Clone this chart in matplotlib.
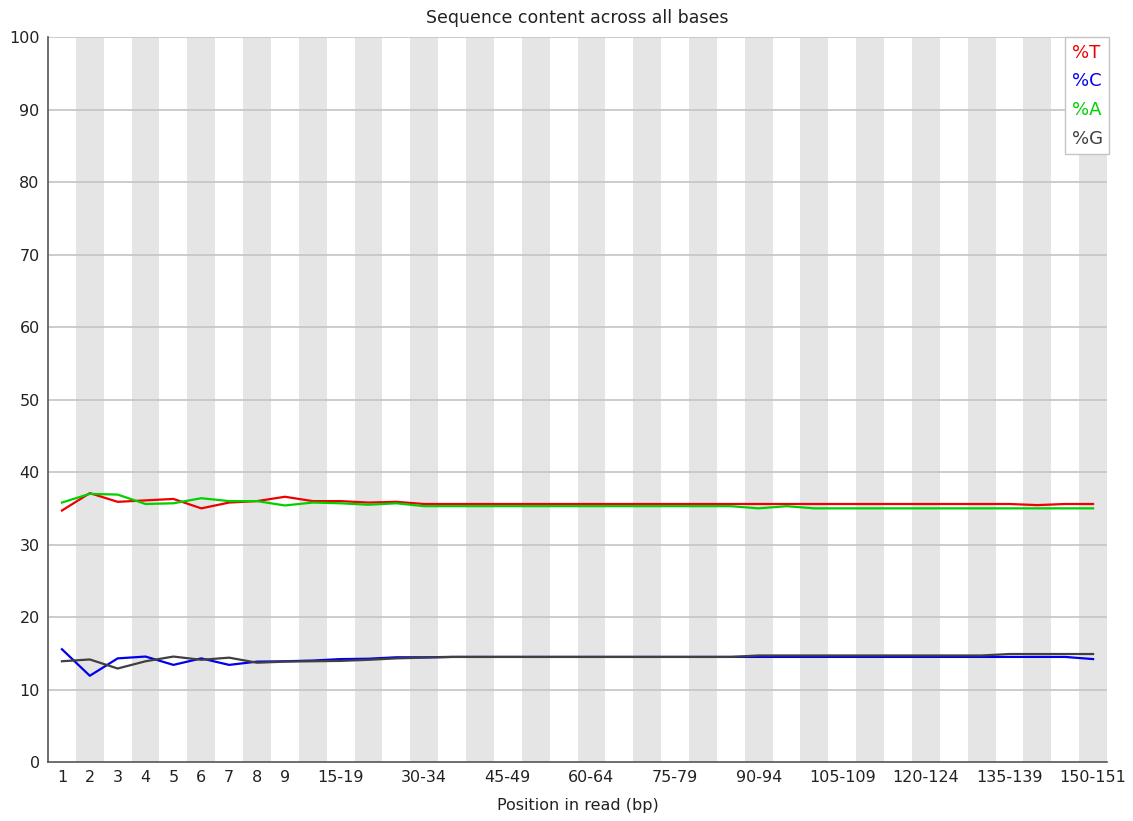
import matplotlib
matplotlib.use("Agg")
import matplotlib.pyplot as plt
import numpy as np

categories = ["1", "2", "3", "4", "5", "6", "7", "8", "9",
              "10-14", "15-19", "20-24", "25-29", "30-34", "35-39", "40-44",
              "45-49", "50-54", "55-59", "60-64", "65-69", "70-74", "75-79",
              "80-84", "85-89", "90-94", "95-99", "100-104", "105-109",
              "110-114", "115-119", "120-124", "125-129", "130-134",
              "135-139", "140-144", "145-149", "150-151"]

pct_T = [34.7, 37.1, 35.9, 36.1, 36.3, 35.0, 35.8, 36.0, 36.6, 36.0,
         36.0, 35.8, 35.9, 35.6, 35.6, 35.6, 35.6, 35.6, 35.6, 35.6,
         35.6, 35.6, 35.6, 35.6, 35.6, 35.6, 35.6, 35.6, 35.6, 35.6,
         35.6, 35.6, 35.6, 35.6, 35.6, 35.45, 35.6, 35.6]
pct_C = [15.56, 11.9, 14.3, 14.55, 13.4, 14.3, 13.4, 13.85, 13.9, 14.0,
         14.2, 14.25, 14.45, 14.45, 14.5, 14.5, 14.5, 14.5, 14.5, 14.5,
         14.5, 14.5, 14.5, 14.5, 14.5, 14.5, 14.5, 14.5, 14.5, 14.5,
         14.5, 14.5, 14.5, 14.5, 14.5, 14.5, 14.5, 14.2]
pct_A = [35.8, 37.0, 36.9, 35.6, 35.7, 36.4, 36.0, 36.0, 35.4, 35.8,
         35.7, 35.5, 35.7, 35.3, 35.3, 35.3, 35.3, 35.3, 35.3, 35.3,
         35.3, 35.3, 35.3, 35.3, 35.3, 35.0, 35.3, 35.0, 35.0, 35.0,
         35.0, 35.0, 35.0, 35.0, 35.0, 35.0, 35.0, 35.0]
pct_G = [13.9, 14.15, 12.9, 13.9, 14.55, 14.1, 14.4, 13.7, 13.85, 13.9,
         13.95, 14.1, 14.3, 14.4, 14.5, 14.5, 14.5, 14.5, 14.5, 14.5,
         14.5, 14.5, 14.5, 14.5, 14.5, 14.7, 14.7, 14.7, 14.7, 14.7,
         14.7, 14.7, 14.7, 14.7, 14.9, 14.9, 14.9, 14.9]

series = [("%T", pct_T, "#ee0000"), ("%C", pct_C, "#0000ee"),
          ("%A", pct_A, "#00d000"), ("%G", pct_G, "#404040")]

fig = plt.figure(figsize=(11.33, 8.21), dpi=100)
ax = fig.add_axes([48 / 1133, 1 - 762 / 821, 1059 / 1133, (762 - 37.3) / 821])

x = np.arange(len(categories))
for i in x:
    if i % 2 == 1:
        ax.axvspan(i - 0.5, i + 0.5, color="#e5e5e5", lw=0, zorder=0)

for yv in range(10, 101, 10):
    ax.axhline(yv, color="#c4c4c4", lw=1.2, zorder=1)

handles = []
for name, vals, col in series:
    h, = ax.plot(x, vals, color=col, lw=1.6, zorder=3, label=name)
    handles.append(h)

ax.set_xlim(-0.5, len(categories) - 0.5)
ax.set_ylim(0, 100)
ax.set_yticks(range(0, 101, 10))
shown = [i for i in x if i < 9 or (i - 10) % 3 == 0 and i >= 10]
ax.set_xticks(shown)
ax.set_xticklabels([categories[i] for i in shown])
ax.tick_params(axis="both", length=0, labelsize=11.5, colors="#222222")
ax.tick_params(axis="y", pad=6)
ax.tick_params(axis="x", pad=6)

for s in ["top", "right"]:
    ax.spines[s].set_visible(False)
for s in ["left", "bottom"]:
    ax.spines[s].set_color("#555555")
    ax.spines[s].set_linewidth(1.2)

ax.set_xlabel("Position in read (bp)", fontsize=11.5, color="#222222", labelpad=9)
ax.set_title("Sequence content across all bases", fontsize=12.5, color="#222222", pad=10)

leg = ax.legend(handles=handles, loc="upper right", bbox_to_anchor=(1.002, 1.0),
                handlelength=0, handletextpad=0, fontsize=13, frameon=True,
                fancybox=False, edgecolor="#c4c4c4", framealpha=1,
                borderpad=0.35, labelspacing=0.6, borderaxespad=0)
for txt, (_, _, col) in zip(leg.get_texts(), series):
    txt.set_color(col)
for h in leg.legend_handles:
    h.set_visible(False)
leg.set_zorder(5)

fig.savefig("out.png", dpi=100)
